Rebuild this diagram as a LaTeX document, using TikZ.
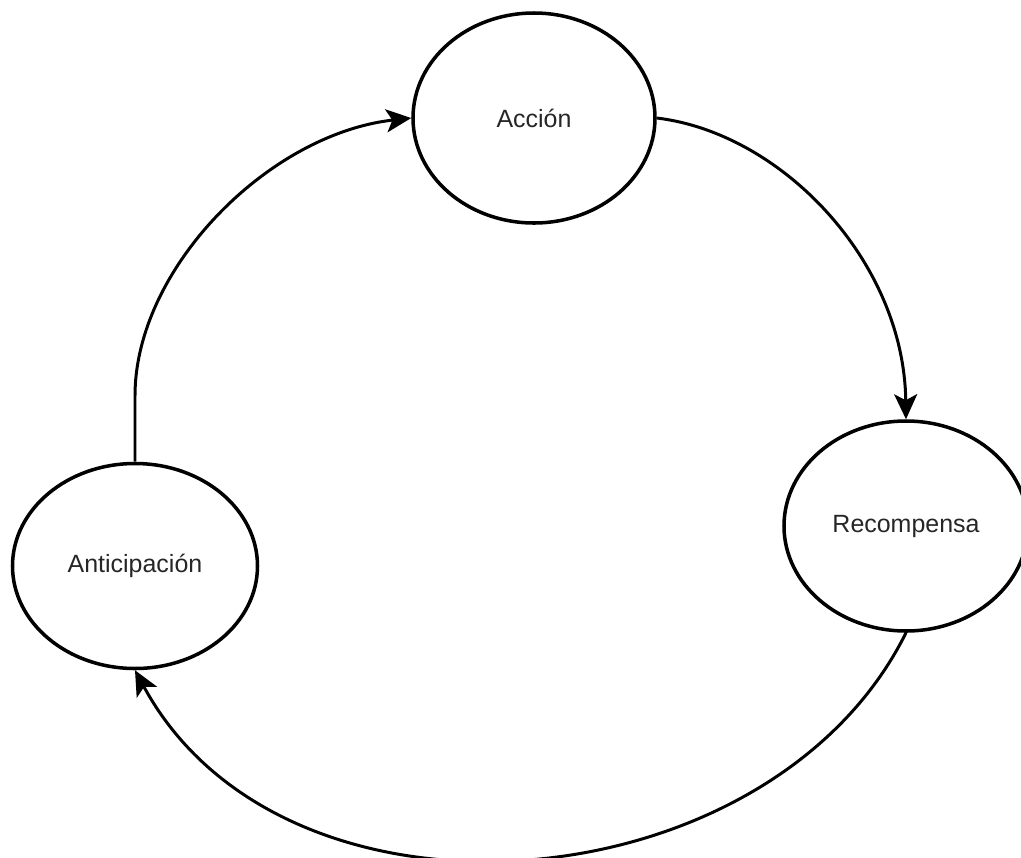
\documentclass[tikz,border=0pt]{standalone}
\usepackage{fontspec}
\setmainfont{Liberation Sans}
\usetikzlibrary{shapes.geometric, arrows.meta}

\begin{document}
\begin{tikzpicture}[x = 0.2mm, y = -0.2mm,
    estado/.style = {draw, ellipse, line width = 2pt, inner sep = 0pt,
        font = \fontsize{14.2}{16}\selectfont, text = black!85},
    flecha/.style = {line width = 1.7pt,
        -{Stealth[length = 5mm, width = 4.6mm, inset = 1.2mm]}}]
    \useasboundingbox (0,0) rectangle (1021,858);

    % states
    \node [estado, minimum width = 48.4mm, minimum height = 42mm] (accion) at (534,118) {Acción};
    \node [estado, minimum width = 49mm, minimum height = 41mm] (anticipacion) at (135,566) {Anticipación};
    \node [estado, minimum width = 48.8mm, minimum height = 42mm] (recompensa) at (906,526) {Recompensa};

    % anticipation to action
    \draw [flecha] (anticipacion.north) -- ++(0,-66)
        .. controls +(0,-127) and +(-143,16) .. (accion.west);

    % action to reward
    \draw [flecha] (accion.east) .. controls +(125,15) and +(-2,-158) .. (recompensa.north);

    % reward back to anticipation
    \draw [flecha] (recompensa.south) .. controls +(-136,274) and +(150,277) .. (anticipacion.south);
\end{tikzpicture}
\end{document}
